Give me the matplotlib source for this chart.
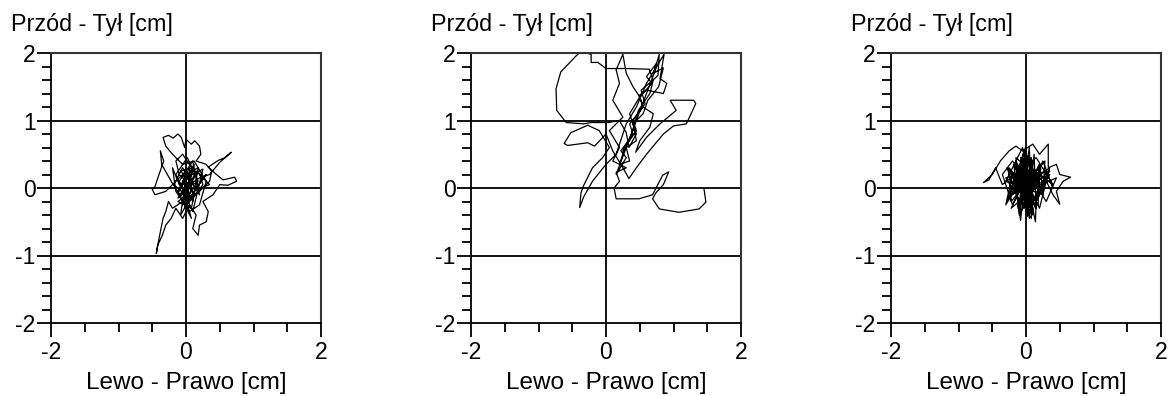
import numpy as np
import matplotlib
matplotlib.use('Agg')
import matplotlib.pyplot as plt
from matplotlib.ticker import MultipleLocator, FixedLocator

plt.rcParams['font.family'] = ['Liberation Sans', 'DejaVu Sans']
plt.rcParams['axes.unicode_minus'] = False

y_label = 'Przód - Tył [cm]'
x_label = 'Lewo - Prawo [cm]'
hgrid_at = [-1, 0, 1]
vgrid_at = [0]

# panel 1 - path of centre of pressure [cm]
p1_x = [0.0, 0.05, -0.08, 0.1, 0.02, -0.12, 0.08, 0.15, -0.05, 0.2,
        0.25, 0.1, -0.1, -0.2, -0.15, 0.05, 0.2, 0.3, 0.12, -0.05,
        -0.2, -0.3, -0.34, -0.26, -0.19, -0.12, -0.07, -0.02, 0.0, 0.08,
        0.13, 0.2, 0.22, 0.15, 0.3, 0.38, 0.35, 0.2, 0.05, -0.08,
        -0.22, -0.36, -0.38, -0.33, -0.4, -0.46, -0.5, -0.46, -0.3, -0.15,
        0.0, 0.1, -0.05, -0.2, -0.26, -0.3, -0.34, -0.37, -0.4, -0.44,
        -0.42, -0.35, -0.3, -0.22, -0.15, -0.05, 0.05, 0.15, 0.1, 0.18,
        0.2, 0.3, 0.33, 0.25, 0.4, 0.5, 0.62, 0.75, 0.72, 0.55,
        0.45, 0.33, 0.48, 0.58, 0.67, 0.5, 0.35, 0.2, 0.05, -0.1,
        -0.15, -0.05, 0.05, 0.15, 0.0, -0.12, 0.02, 0.12, -0.02, 0.08,
        0.05, -0.1, 0.12, -0.05, 0.18, 0.02, -0.15, 0.1, 0.25, 0.0,
        -0.08, 0.15, 0.3, 0.05, -0.18, -0.05, 0.2, 0.1, -0.1, 0.05,
        0.22, 0.35, 0.15, -0.02, 0.08, -0.12, 0.0, 0.18, 0.1, -0.05]
p1_y = [0.0, 0.12, 0.25, 0.3, -0.1, -0.2, -0.3, 0.05, 0.18, 0.22,
        0.05, -0.15, 0.05, 0.3, -0.05, -0.35, -0.25, 0.1, 0.4, 0.35,
        0.5, 0.62, 0.75, 0.78, 0.74, 0.8, 0.75, 0.6, 0.72, 0.65,
        0.7, 0.62, 0.5, 0.4, 0.35, 0.25, 0.1, -0.05, 0.1, -0.12,
        0.1, 0.35, 0.55, 0.4, 0.2, 0.02, -0.02, -0.1, -0.05, 0.1,
        0.25, 0.1, -0.2, -0.3, -0.2, -0.35, -0.45, -0.6, -0.75, -0.97,
        -0.85, -0.7, -0.55, -0.45, -0.3, -0.45, -0.25, -0.4, -0.6, -0.7,
        -0.55, -0.5, -0.35, -0.2, -0.1, 0.05, 0.04, 0.1, 0.16, 0.12,
        0.2, 0.31, 0.41, 0.45, 0.53, 0.38, 0.2, 0.15, 0.05, 0.2,
        0.4, 0.5, 0.35, 0.2, -0.05, -0.15, 0.08, -0.1, -0.3, 0.0,
        0.3, -0.05, 0.35, -0.25, 0.1, 0.45, 0.2, -0.35, 0.28, 0.15,
        -0.4, 0.0, 0.2, -0.15, 0.05, 0.3, -0.1, 0.4, 0.1, -0.2,
        0.0, 0.05, 0.25, -0.1, -0.45, -0.05, 0.2, 0.3, -0.2, 0.1]

# panel 2
p2_x = [1.45, 1.48, 1.38, 1.08, 0.79, 0.69, 0.74, 0.85, 0.93, 0.84,
        0.69, 0.49, 0.3, 0.15, 0.12, 0.2, 0.15, 0.3, 0.1, 0.2,
        0.05, 0.25, 0.1, 0.2, 0.15, 0.25, 0.3, 0.4, 0.5, 0.35,
        0.45, 0.34, 0.3, 0.2, 0.04, -0.22, -0.33, -0.59, -0.73, -0.74,
        -0.67, -0.44, -0.37, -0.22, -0.22, -0.12, 0.0, 0.3, 0.64, 0.7,
        0.77, 0.79, 0.72, 0.86, 0.8, 0.9, 0.85, 0.6, 0.49, 0.55,
        0.7, 0.65, 0.5, 0.44, 0.6, 0.8, 1.04, 0.95, 1.3, 1.33,
        1.19, 1.0, 0.85, 0.6, 0.45, 0.34, 0.25, 0.1, 0.0, -0.17,
        -0.27, -0.57, -0.62, -0.52, -0.27, -0.1, 0.05, -0.05, -0.2, -0.33,
        -0.37, -0.39, -0.33, -0.2, 0.0, 0.15, 0.3, 0.45, 0.6, 0.75,
        0.15, 0.3, 0.22, 0.4, 0.35, 0.55, 0.5, 0.68, 0.6, 0.75,
        0.7, 0.85, 0.78, 0.62, 0.55, 0.4, 0.45, 0.3, 0.35, 0.2,
        0.28, 0.45, 0.4, 0.58, 0.52, 0.7, 0.65, 0.48, 0.38, 0.25]
p2_y = [0.0, -0.21, -0.31, -0.36, -0.31, -0.16, -0.07, 0.05, 0.24, 0.19,
        -0.1, -0.16, -0.16, -0.16, 0.0, 0.1, 0.23, 0.3, 0.4, 0.6,
        0.85, 1.05, 1.3, 1.55, 1.75, 1.98, 1.7, 1.5, 1.35, 1.1,
        0.8, 0.6, 0.82, 1.0, 0.97, 0.97, 0.95, 0.97, 1.15, 1.47,
        1.72, 1.96, 2.02, 1.98, 1.86, 1.86, 1.77, 1.77, 1.76, 1.6,
        1.67, 1.98, 1.75, 1.98, 1.62, 1.55, 1.4, 1.45, 1.37, 1.2,
        1.1, 0.9, 0.7, 0.53, 0.75, 0.95, 1.15, 1.3, 1.3, 1.25,
        0.95, 0.92, 0.8, 0.5, 0.3, 0.14, 0.3, 0.55, 0.8, 0.62,
        0.67, 0.63, 0.66, 0.82, 0.93, 0.85, 0.6, 0.45, 0.3, 0.04,
        -0.07, -0.29, -0.13, 0.1, 0.35, 0.5, 0.95, 1.2, 1.55, 1.8,
        0.2, 0.45, 0.55, 0.8, 0.95, 1.2, 1.35, 1.55, 1.65, 1.85,
        1.7, 1.78, 1.5, 1.3, 1.1, 0.95, 0.7, 0.6, 0.4, 0.35,
        0.6, 0.85, 1.0, 1.25, 1.45, 1.6, 1.4, 1.15, 0.8, 0.55]

# panel 3
p3_x = [0.0, -0.1, 0.05, -0.15, 0.1, -0.05, 0.2, -0.2, 0.05, 0.1,
        -0.25, 0.15, -0.1, 0.0, 0.25, -0.3, -0.05, 0.12, -0.18, 0.3,
        -0.22, 0.08, -0.12, 0.35, 0.2, -0.05, -0.28, 0.0, 0.05, -0.08,
        0.4, 0.15, -0.35, -0.45, -0.55, -0.63, -0.5, -0.38, -0.25, -0.15,
        -0.05, 0.1, 0.2, 0.33, 0.33, 0.45, 0.5, 0.66, 0.55, 0.45,
        0.5, 0.4, 0.3, 0.15, 0.14, 0.1, -0.02, -0.08, -0.12, -0.2,
        -0.3, -0.18, -0.1, 0.05, 0.2, 0.25, 0.1, -0.05, -0.15, 0.02,
        0.18, 0.3, 0.4, 0.25, 0.1, -0.2, -0.28, -0.12, 0.06, 0.12,
        -0.02, -0.1, 0.15, 0.35, 0.2, -0.05, -0.25, -0.15, 0.08, 0.1,
        0.0, -0.2, -0.35, -0.2, -0.06, 0.22, 0.45, 0.3, 0.05, -0.1,
        -0.05, 0.0, 0.08, 0.1, -0.15, -0.12, 0.2, 0.18, -0.25, -0.22,
        0.28, 0.25, -0.02, 0.02, 0.12, 0.15, -0.18, -0.1, 0.05, 0.08,
        -0.3, 0.35, 0.0, -0.08, 0.14, 0.22, -0.2, 0.1, -0.05, 0.03]
p3_y = [0.1, 0.3, -0.2, 0.15, 0.4, -0.3, 0.2, -0.1, 0.5, -0.35,
        0.25, 0.05, -0.4, 0.45, -0.1, 0.1, 0.6, -0.25, 0.35, 0.15,
        -0.3, 0.3, -0.05, 0.3, -0.3, 0.2, -0.2, 0.62, -0.45, 0.4,
        0.05, 0.45, 0.05, 0.3, 0.12, 0.08, 0.2, 0.4, 0.55, 0.62,
        0.55, 0.65, 0.5, 0.65, 0.3, 0.35, 0.2, 0.16, 0.1, -0.05,
        -0.24, -0.1, 0.1, -0.2, -0.5, -0.3, 0.1, -0.48, -0.2, 0.2,
        -0.25, -0.05, 0.35, 0.05, 0.35, -0.05, 0.15, -0.15, 0.45, 0.3,
        -0.15, 0.25, 0.0, 0.4, 0.05, 0.05, 0.3, 0.1, -0.38, 0.25,
        0.5, -0.25, 0.1, 0.2, -0.05, 0.25, -0.1, 0.2, 0.42, -0.15,
        0.15, 0.4, 0.2, -0.25, 0.05, 0.05, 0.15, -0.2, 0.2, 0.0,
        0.5, -0.35, 0.45, -0.4, 0.4, -0.3, 0.35, -0.25, 0.3, -0.2,
        0.4, -0.1, 0.55, -0.42, 0.5, -0.3, 0.35, -0.38, 0.6, -0.45,
        0.15, 0.25, -0.35, 0.45, -0.3, 0.3, 0.1, -0.2, 0.2, 0.05]

paths = [(p1_x, p1_y), (p2_x, p2_y), (p3_x, p3_y)]
lefts = [51, 471, 891]

W, H = 1168, 396
fig = plt.figure(figsize=(W / 100, H / 100), dpi=100)

for (px, py), left in zip(paths, lefts):
    ax = fig.add_axes([left / W, (H - 323) / H, 270 / W, 270 / H])
    ax.set_xlim(-2, 2)
    ax.set_ylim(-2, 2)
    for g in hgrid_at:
        ax.axhline(g, color='black', lw=1.3, zorder=1)
    for g in vgrid_at:
        ax.axvline(g, color='black', lw=1.3, zorder=1)
    ax.plot(px, py, color='black', lw=0.9, zorder=2)

    ax.xaxis.set_major_locator(FixedLocator([-2, 0, 2]))
    ax.xaxis.set_minor_locator(MultipleLocator(0.5))
    ax.yaxis.set_major_locator(MultipleLocator(1))
    ax.yaxis.set_minor_locator(MultipleLocator(0.2))
    ax.tick_params(which='major', direction='out', length=10, width=1.3,
                   labelsize=16.5, colors='black')
    ax.tick_params(which='minor', direction='out', length=6.5, width=1.3)
    ax.tick_params(axis='x', which='major', pad=3)
    ax.tick_params(axis='y', which='major', pad=1)
    for s in ['left', 'bottom']:
        ax.spines[s].set_linewidth(1.3)
    for s in ['top', 'right']:
        ax.spines[s].set_linewidth(1.5)
        ax.spines[s].set_color('#333333')

    ax.text(-40 / 270, 1 + 40 / 270, y_label, transform=ax.transAxes,
            ha='left', va='top', fontsize=16.8)
    ax.text(0.5, -60 / 270, x_label, transform=ax.transAxes,
            ha='center', va='center', fontsize=17.5)

fig.savefig('out.png', dpi=100)
